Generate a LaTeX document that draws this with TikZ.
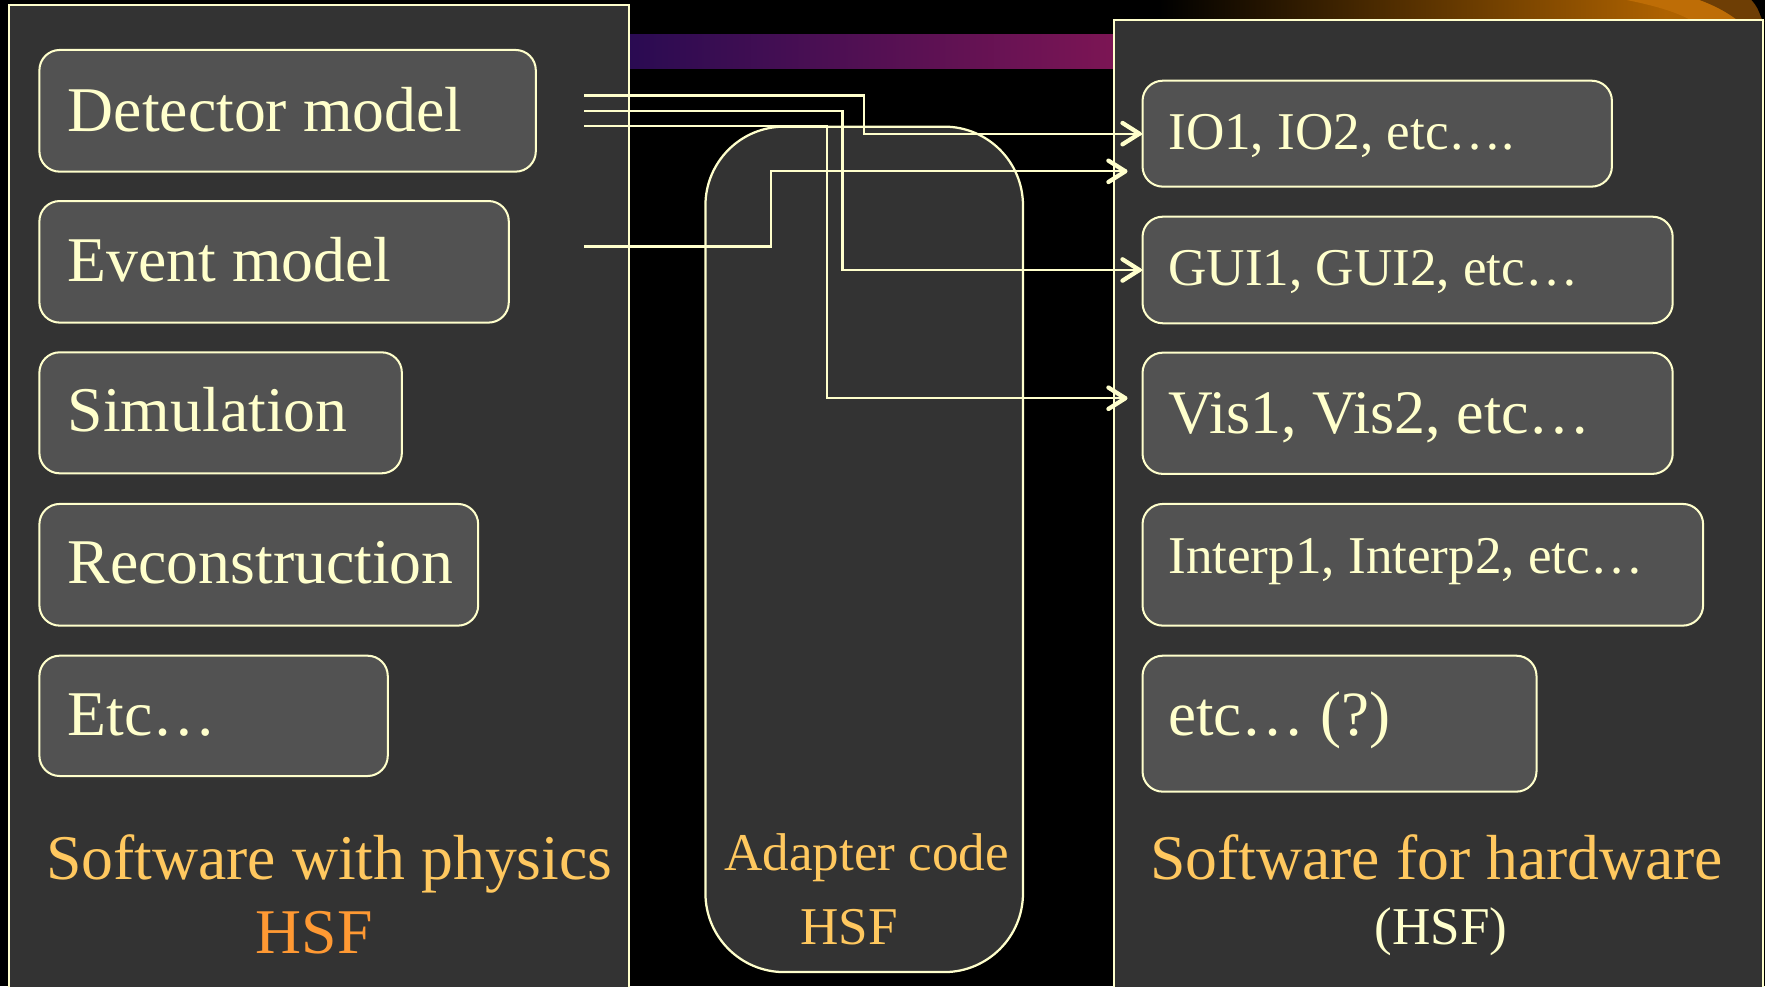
\documentclass[tikz,border=0pt]{standalone}
\usepackage{fontspec}
\setmainfont{Liberation Serif}
\usetikzlibrary{arrows.meta,fit}
\definecolor{cream}{HTML}{FFFFCC}
\definecolor{panel}{HTML}{333333}
\definecolor{boxfill}{HTML}{525252}
\definecolor{gold}{HTML}{FFC85F}
\definecolor{hsforange}{HTML}{FF9933}
\definecolor{barL}{HTML}{2A0B52}
\definecolor{barR}{HTML}{7C1554}
\definecolor{orngR}{HTML}{AE6200}
\definecolor{orngBand}{HTML}{BE6D06}
\definecolor{ringBrown}{HTML}{6E3E05}
\begin{document}
\begin{tikzpicture}[x=0.5pt,y=-0.5pt,
  panelbox/.style={draw=cream, line width=0.9pt, fill=panel, inner sep=0pt},
  adapterbox/.style={draw=cream, line width=1pt, fill=panel, rounded corners=35pt, inner sep=0pt},
  itembox/.style={draw=cream, line width=0.9pt, fill=boxfill, rounded corners=9pt, inner sep=0pt},
  bigtxt/.style={text=cream, font=\fontsize{28.3}{34}\selectfont, inner sep=0pt, anchor=base west},
  smalltxt/.style={text=cream, font=\fontsize{23.6}{28}\selectfont, inner sep=0pt, anchor=base west},
  bigcap/.style={font=\fontsize{28.3}{34}\selectfont, inner sep=0pt, anchor=base},
  smallcap/.style={font=\fontsize{23.6}{28}\selectfont, inner sep=0pt, anchor=base},
  link/.style={draw=cream, line width=1pt},
  tipdraw/.style={draw=cream, line width=1.9pt, line cap=round, -{Straight Barb[length=7.5pt,width=9.5pt,round]}}
]
\useasboundingbox (0,0) rectangle (1568,876);
\fill[black] (0,0) rectangle (1568,876);
\clip (0,0) rectangle (1568,876);

% top decorations
\shade[left color=barL, right color=barR] (559,30.5) rectangle (990,61.3);
\shade[left color=black, right color=orngR] (1030,0) rectangle (1480,19);
\fill[orngR] (1479,0) rectangle (1568,19);
\fill[orngBand] (1445,0) .. controls (1475,6) and (1492,12) .. (1504,19) -- (1545,19) .. controls (1536,12) and (1526,6) .. (1510,0) -- cycle;
\fill[ringBrown] (1510,0) .. controls (1526,6) and (1536,12) .. (1545,19) -- (1568,19) -- (1568,0) -- cycle;
\fill[black] (1556,0) .. controls (1561,6) .. (1566,19) -- (1568,19) -- (1568,0) -- cycle;

% panels
\node[panelbox, fit={(8,4.1) (558.4,900)}] (phys) {};
\node[panelbox, fit={(989.5,17.8) (1566,900)}] (hw) {};
\node[adapterbox, fit={(626.7,112.5) (908.8,863.6)}] (adapter) {};

% left boxes
\node[itembox, fit={(35,44.4) (476,152.5)}] (det) {};
\node[itembox, fit={(35,178.6) (452,286.6)}] (evt) {};
\node[itembox, fit={(35,313) (357,420.5)}] (sim) {};
\node[itembox, fit={(35,447.7) (424.8,555.8)}] (rec) {};
\node[itembox, fit={(35,582.5) (344.5,689.4)}] (etc) {};

% right boxes
\node[itembox, fit={(1015,71.7) (1432,165.8)}] (io) {};
\node[itembox, fit={(1015,192.5) (1486,287.2)}] (gui) {};
\node[itembox, fit={(1015,313.3) (1486,421)}] (vis) {};
\node[itembox, fit={(1015,447.7) (1513,555.8)}] (interp) {};
\node[itembox, fit={(1015,582.5) (1365,703.3)}] (etq) {};

% box texts
\node[bigtxt] (detT) at (59.8,117) {Detector model};
\node[bigtxt] (evtT) at (59.8,250.2) {Event model};
\node[bigtxt] (simT) at (59.8,383.5) {Simulation};
\node[bigtxt] (recT) at (59.8,518.2) {Reconstruction};
\node[bigtxt] (etcT) at (59.8,653) {Etc…};

\node[smalltxt] (ioT) at (1037.5,132.7) {IO1, IO2, etc….};
\node[smalltxt] (guiT) at (1037.5,254) {GUI1, GUI2, etc…};
\node[bigtxt, font=\fontsize{27.5}{33}\selectfont] (visT) at (1037.5,385) {Vis1, Vis2, etc…};
\node[smalltxt] (interpT) at (1037.5,509.3) {Interp1, Interp2, etc…};
\node[bigtxt, font=\fontsize{28}{34}\selectfont] (etqT) at (1037.5,653) {etc… (?)};

% captions
\node[bigcap, text=gold] (physL) at (292.6,781.1) {Software with physics};
\node[bigcap, text=hsforange] (physH) at (279,846.9) {HSF};
\node[smallcap, text=gold] (adL) at (770,773) {Adapter code};
\node[smallcap, text=gold] (adH) at (754.5,839.5) {HSF};
\node[bigcap, text=gold] (hwL) at (1276.3,781) {Software for hardware};
\node[smallcap, text=cream] (hwH) at (1280,839.5) {(HSF)};

% connectors
\coordinate (s1) at (519.2,84.8);
\coordinate (s2) at (519.2,98.3);
\coordinate (s3) at (519.2,112);
\coordinate (s4) at (519.2,219.1);
\coordinate (j1) at (767.7,118.75);
\coordinate (j2) at (748.4,239.85);
\coordinate (j3) at (734.7,353.8);
\coordinate (e3) at (1001.6,353.8);
\coordinate (j4) at (684.8,152.2);
\coordinate (e4) at (1001.6,152.2);

\draw[link] (s1) -| (j1) -- (io.west);
\draw[link] (s2) -| (j2) -- (gui.west);
\draw[link] (s3) -| (j3) -- (e3);
\draw[link] (s4) -| (j4) -- (e4);

% arrow heads
\draw[tipdraw] ([xshift=-1pt]io.west) -- (io.west);
\draw[tipdraw] ([xshift=-1pt]gui.west) -- (gui.west);
\draw[tipdraw] ([xshift=-1pt]e3) -- (e3);
\draw[tipdraw] ([xshift=-1pt]e4) -- (e4);
\end{tikzpicture}
\end{document}
